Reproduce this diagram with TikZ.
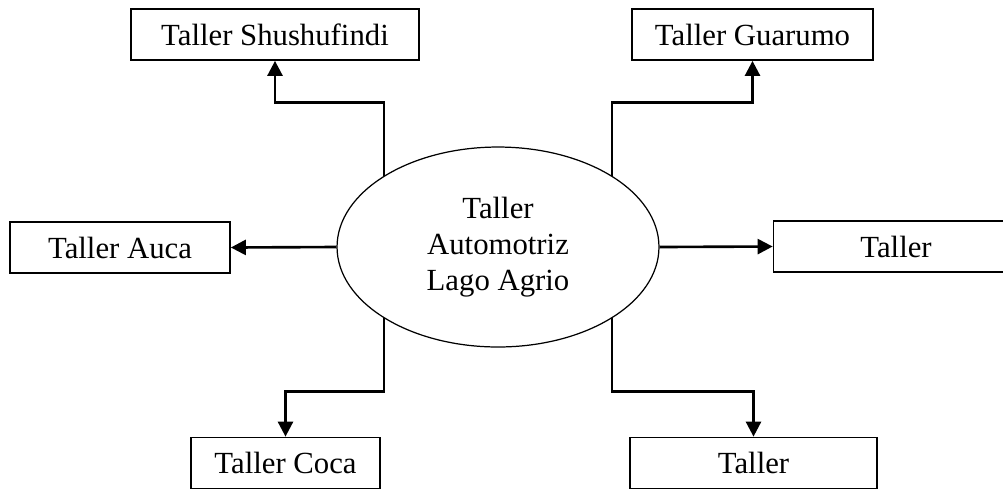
\documentclass[tikz,border=0pt]{standalone}
\usepackage{fontspec}
\setmainfont{Liberation Serif}
\usepackage{tikz}
\usetikzlibrary{shapes.geometric,arrows.meta}

\begin{document}
\begin{tikzpicture}[x=0.02cm,y=-0.02cm,
    box/.style={draw, line width=1pt, minimum height=1.02cm, inner sep=0pt},
    arr/.style={line width=1.5pt, -{Triangle[length=0.3cm,width=0.3cm]}}]
    \fontsize{17.5}{20.5}\selectfont
    \useasboundingbox (0,0) rectangle (1003,488);
    \node[ellipse, draw, line width=0.7pt, minimum width=6.44cm, minimum height=4cm, inner sep=0pt, align=center] (hub) at (498,247) {Taller\\Automotriz\\Lago Agrio};
    \node[box, minimum width=5.76cm] (shu) at (275,34.5) {Taller Shushufindi};
    \node[box, minimum width=4.82cm] (gua) at (752.5,34.5) {Taller Guarumo};
    \node[box, minimum width=4.4cm] (auca) at (120,247.5) {Taller Auca};
    \node[box, minimum width=4.9cm] (der) at (896,246.5) {Taller};
    \node[box, minimum width=3.78cm] (coca) at (285.5,463) {Taller Coca};
    \node[box, minimum width=4.94cm] (abajo) at (753.5,463) {Taller};
    \draw[arr] (hub.148) -- ++(0,-73) -| (shu.south);
    \draw[arr] (hub.32) -- ++(0,-73) -| (gua.south);
    \draw[arr] (hub.west) -- (auca.east);
    \draw[arr] (hub.east) -- (der.west);
    \draw[arr] (hub.212) -- ++(0,73) -| (coca.north);
    \draw[arr] (hub.328) -- ++(0,73) -| (abajo.north);
\end{tikzpicture}
\end{document}
